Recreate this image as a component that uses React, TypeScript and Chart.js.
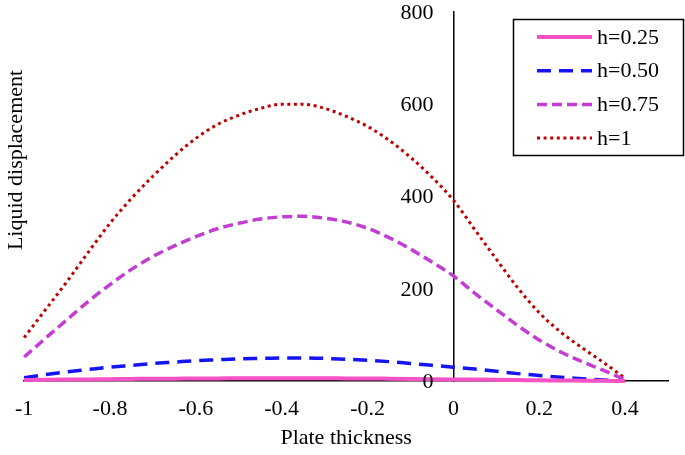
import { useEffect, useRef } from "react";
import { Chart, registerables } from "chart.js";

Chart.register(...registerables);

const thickness = [
  -1, -0.95, -0.9, -0.85, -0.8, -0.75, -0.7, -0.65, -0.6, -0.55, -0.5, -0.45, -0.4, -0.35,
  -0.3, -0.25, -0.2, -0.15, -0.1, -0.05, 0, 0.05, 0.1, 0.15, 0.2, 0.25, 0.3, 0.35, 0.4,
];
const h025 = [
  2, 2.5, 3, 3.5, 4, 4.5, 5, 5, 5.5, 5.5, 6, 6, 6, 6, 6, 5.5, 5.5, 5, 4.5, 4, 3.5, 3, 2.5, 2, 1.5,
  1.2, 0.8, 0.4, 0,
];
const h050 = [
  7, 14, 20, 25, 30, 34, 38, 41, 44, 46, 48, 49, 50, 50, 49, 47, 45, 42, 38, 34, 30, 26, 21, 16,
  12, 8, 5, 2, 0,
];
const h075 = [
  52, 93, 133, 173, 209, 242, 270, 293, 313, 330, 342, 351, 356, 357, 353, 345, 331, 311, 286,
  258, 228, 190, 155, 120, 89, 63, 42, 23, 3,
];
const h100 = [
  94, 155, 216, 280, 342, 396, 444, 488, 526, 556, 576, 591, 600, 600, 591, 574, 552, 522, 485,
  442, 392, 328, 264, 202, 148, 106, 72, 40, 6,
];
const seriesLabels = ["h=0.25", "h=0.50", "h=0.75", "h=1"];
const xTicks = [-1, -0.8, -0.6, -0.4, -0.2, 0, 0.2, 0.4];
const yTicks = [0, 200, 400, 600, 800];
const xTitle = "Plate thickness";
const yTitle = "Liquid displacement";

const FONT = '"Liberation Serif", "Times New Roman", serif';

const decorPlugin = {
  id: "decor",
  afterDraw(chart: any) {
    const ctx = chart.ctx as CanvasRenderingContext2D;
    const ca = chart.chartArea;
    const xs = chart.scales.x;
    const ys = chart.scales.y;
    ctx.save();
    ctx.fillStyle = "#000";
    ctx.font = `22px ${FONT}`;

    // y tick labels, to the left of the y axis at x = 0
    ctx.textAlign = "right";
    ctx.textBaseline = "middle";
    const axisX = xs.getPixelForValue(0);
    yTicks.forEach((v) => {
      ctx.fillText(String(v), axisX - 20, ys.getPixelForValue(v) + 1);
    });

    // axis titles
    ctx.textAlign = "center";
    ctx.textBaseline = "middle";
    ctx.fillText(xTitle, (ca.left + ca.right) / 2, 438);
    ctx.save();
    ctx.translate(16, 160);
    ctx.rotate(-Math.PI / 2);
    ctx.fillText(yTitle, 0, 0);
    ctx.restore();

    // legend box
    const bx = 513.5, by = 19.5, bw = 170, bh = 136;
    ctx.fillStyle = "#fff";
    ctx.fillRect(bx, by, bw, bh);
    ctx.strokeStyle = "#000";
    ctx.lineWidth = 1.5;
    ctx.strokeRect(bx, by, bw, bh);
    chart.data.datasets.forEach((ds: any, i: number) => {
      const y = 37 + i * 33.7;
      ctx.beginPath();
      ctx.strokeStyle = ds.borderColor;
      ctx.lineWidth = ds.borderWidth;
      ctx.setLineDash(ds.borderDash || []);
      ctx.lineCap = ds.borderCapStyle || "butt";
      ctx.moveTo(537, y);
      ctx.lineTo(592, y);
      ctx.stroke();
      ctx.setLineDash([]);
      ctx.fillStyle = "#000";
      ctx.font = `22px ${FONT}`;
      ctx.textAlign = "left";
      ctx.textBaseline = "middle";
      ctx.fillText(ds.label, 597, y + 1);
    });
    ctx.restore();
  },
};

export default function App() {
  const ref = useRef<HTMLCanvasElement>(null);
  useEffect(() => {
    if (!ref.current) return;
    const mk = (vals: number[]) => thickness.map((x, i) => ({ x, y: vals[i] }));
    const chart = new Chart(ref.current, {
      type: "line",
      data: {
        datasets: [
          {
            label: seriesLabels[0],
            data: mk(h025),
            borderColor: "#F652C8",
            borderWidth: 4,
            pointRadius: 0,
            cubicInterpolationMode: "monotone",
            clip: false,
          },
          {
            label: seriesLabels[1],
            data: mk(h050),
            borderColor: "#1414F5",
            borderWidth: 3.5,
            borderDash: [14, 8],
            pointRadius: 0,
            cubicInterpolationMode: "monotone",
            clip: false,
          },
          {
            label: seriesLabels[2],
            data: mk(h075),
            borderColor: "#C33DD3",
            borderWidth: 3.5,
            borderDash: [10, 5],
            pointRadius: 0,
            cubicInterpolationMode: "monotone",
            clip: false,
          },
          {
            label: seriesLabels[3],
            data: mk(h100),
            borderColor: "#C00000",
            borderWidth: 3,
            borderDash: [3, 3.6],
            pointRadius: 0,
            cubicInterpolationMode: "monotone",
            clip: false,
          },
        ] as any,
      },
      options: {
        animation: false,
        responsive: true,
        maintainAspectRatio: false,
        layout: { padding: { left: 22, right: 17, top: 12, bottom: 74 } },
        plugins: { legend: { display: false }, tooltip: { enabled: false } },
        font: { family: FONT, size: 22 } as any,
        scales: {
          x: {
            type: "linear",
            min: -1,
            max: 0.5,
            position: { y: 0 } as any,
            grid: { display: false, drawTicks: false },
            border: { display: true, color: "#000", width: 1.5 },
            afterBuildTicks: (s: any) => {
              s.ticks = xTicks.map((v) => ({ value: v }));
            },
            ticks: {
              color: "#000",
              font: { family: FONT, size: 22 },
              padding: 15,
              maxRotation: 0,
              autoSkip: false,
              callback: (v: any) => String(v),
            },
          },
          y: {
            type: "linear",
            min: 0,
            max: 800,
            position: { x: 0 } as any,
            grid: { display: false, drawTicks: false },
            border: { display: true, color: "#000", width: 1.5 },
            afterBuildTicks: (s: any) => {
              s.ticks = yTicks.map((v) => ({ value: v }));
            },
            ticks: { display: false, padding: 0 },
          },
        },
      },
      plugins: [decorPlugin],
    });
    return () => chart.destroy();
  }, []);
  return (
    <div style={{ position: "fixed", left: 0, top: 0, width: 685, height: 455, background: "#fff" }}>
      <canvas ref={ref} />
    </div>
  );
}
